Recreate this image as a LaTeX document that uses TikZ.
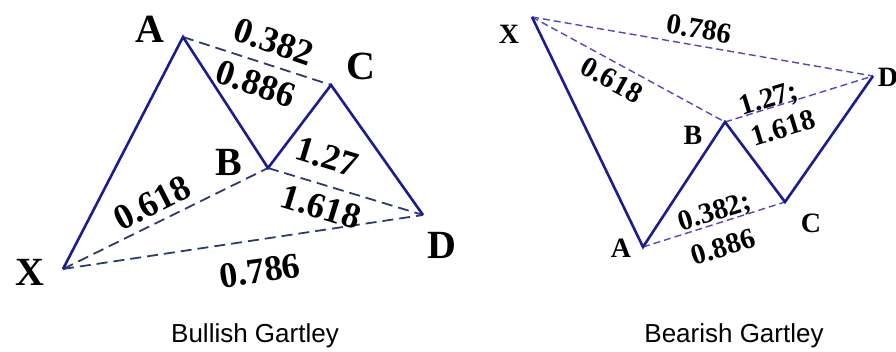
\documentclass[tikz,border=0pt]{standalone}
\usepackage{fontspec}
\setmainfont{Liberation Serif}
\newfontfamily\capfont{Liberation Sans}
\definecolor{solidblue}{HTML}{1C1C8E}
\definecolor{darkdash}{HTML}{2B3B6E}
\definecolor{lightdash}{HTML}{4B4BC0}
\begin{document}
\begin{tikzpicture}[x=1pt,y=-1pt,
  leg/.style={draw=solidblue,line width=2.6pt,line join=miter},
  dashL/.style={draw=darkdash,line width=1.8pt,dash pattern=on 11pt off 6pt},
  dashR/.style={draw=lightdash,line width=1.4pt,dash pattern=on 7pt off 4pt},
  bigL/.style={font=\bfseries\fontsize{40}{40}\selectfont,inner sep=0pt},
  numL/.style={font=\bfseries\fontsize{36}{36}\selectfont,inner sep=0pt},
  bigR/.style={font=\bfseries\fontsize{28}{28}\selectfont,inner sep=0pt},
  numR/.style={font=\bfseries\fontsize{29}{29}\selectfont,inner sep=0pt},
  captext/.style={font=\capfont\fontsize{26}{26}\selectfont,inner sep=0pt}]
\useasboundingbox (0,0) rectangle (896,352);
% ---------- Bullish ----------
\coordinate (lX) at (63,269);
\coordinate (lA) at (183,37);
\coordinate (lB) at (268,168);
\coordinate (lC) at (331,85);
\coordinate (lD) at (423,215);
\draw[dashL] (lA) -- (lC);
\draw[dashL] (lX) -- (lB);
\draw[dashL] (lB) -- (lD);
\draw[dashL] (lX) -- (lD);
\draw[leg] (lX) -- (lA) -- (lB) -- (lC) -- (lD);
\node[bigL] (tA) at (150,29) {A};
\node[bigL] (tC) at (361,66) {C};
\node[bigL] (tB) at (229,162) {B};
\node[bigL] (tX) at (30,272) {X};
\node[bigL] (tD) at (442,245) {D};
\node[numL,rotate=-19] (n1) at (274,42) {0.382};
\node[numL,rotate=-19] (n2) at (256,84) {0.886};
\node[numL,rotate=-17] (n3) at (327,157) {1.27};
\node[numL,rotate=-17] (n4) at (321,207) {1.618};
\node[numL,rotate=27] (n5) at (152,203) {0.618};
\node[numL,rotate=8] (n6) at (260,271) {0.786};
\node[captext] (c1) at (255,336) {Bullish Gartley};
% ---------- Bearish ----------
\coordinate (rX) at (532,17);
\coordinate (rA) at (643,247);
\coordinate (rB) at (725,122);
\coordinate (rC) at (785,202);
\coordinate (rD) at (873,76);
\draw[dashR] (rX) -- (rD);
\draw[dashR] (rX) -- (rB);
\draw[dashR] (rB) -- (rD);
\draw[dashR] (rA) -- (rC);
\draw[leg] (rX) -- (rA) -- (rB) -- (rC) -- (rD);
\node[bigR] (sX) at (509,34) {X};
\node[bigR] (sD) at (888,77) {D};
\node[bigR] (sB) at (693,135) {B};
\node[bigR] (sC) at (811,223) {C};
\node[bigR] (sA) at (621,248) {A};
\node[numR,rotate=-10] (m1) at (699,29) {0.786};
\node[numR,rotate=-29] (m2) at (612,80) {0.618};
\node[numR,rotate=17] (m3) at (769,100) {1.27;};
\node[numR,rotate=17] (m4) at (783,128) {1.618};
\node[numR,rotate=17] (m5) at (715,213) {0.382;};
\node[numR,rotate=17] (m6) at (723,247) {0.886};
\node[captext] (c2) at (734,336) {Bearish Gartley};
\end{tikzpicture}
\end{document}
